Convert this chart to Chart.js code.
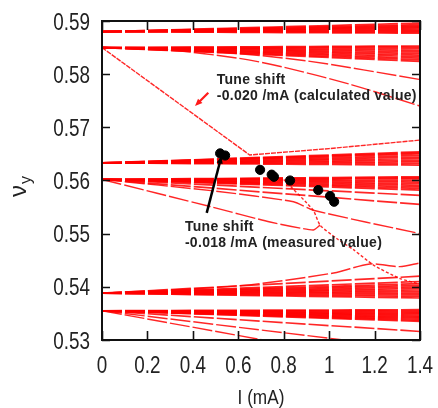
<!DOCTYPE html>
<html>
<head>
<meta charset="utf-8">
<script src="https://cdn.jsdelivr.net/npm/chart.js@4.4.1/dist/chart.umd.min.js"></script>
<style>
  html, body { margin: 0; padding: 0; background: #fff; }
  #wrap { width: 438px; height: 408px; }
</style>
</head>
<body>
<div id="wrap"><canvas id="myChart" width="438" height="408"></canvas></div>
<script>
// beam current range (mA)
const xMax = 1.4

// bands of tune lines: each line starts at the band tune (I = 0) and ends at I = xMax
const bandStarts = [0.5880, 0.5850, 0.5633, 0.5602, 0.5388, 0.5355]
const band1Ends = [0.5877, 0.5879, 0.5881, 0.5883, 0.5885, 0.5887, 0.5889, 0.5891, 0.5893, 0.5896]
const band2Ends = [0.5824, 0.5827, 0.5830, 0.5833, 0.5836, 0.5839, 0.5842, 0.5845, 0.5848, 0.5851, 0.5853]
const band3Ends = [0.5629, 0.5632, 0.5635, 0.5638, 0.5641, 0.5644, 0.5647, 0.5650, 0.5652, 0.5654]
const band4Ends = [0.5555, 0.5572, 0.5582, 0.5585, 0.5588, 0.5591, 0.5594, 0.5597, 0.5600, 0.5603, 0.5605, 0.5607]
const band5Ends = [0.5379, 0.5382, 0.5385, 0.5388, 0.5391, 0.5394, 0.5397, 0.5400, 0.5403, 0.5406, 0.5410, 0.5420]
const band6Ends = [0.5316, 0.5335, 0.5337, 0.5339, 0.5341, 0.5343, 0.5345, 0.5347, 0.5349, 0.5351, 0.5353, 0.5355, 0.5357]
const bandEnds = [band1Ends, band2Ends, band3Ends, band4Ends, band5Ends, band6Ends]

// single mode lines (current, tune)
const calcI = [0, 0.65, 1.0, 1.4]
const calcNu = [0.585, 0.5648, 0.5660, 0.5676]
const steepI = [0.80, 0.93, 0.96, 1.033, 1.107, 1.195, 1.31, 1.4]
const steepNu = [0.5602, 0.5544, 0.5516, 0.5491, 0.5470, 0.5441, 0.5416, 0.5405]
const upperI = [0, 0.5, 0.843, 0.93, 1.4]
const upperNu = [0.5602, 0.5580, 0.5560, 0.5544, 0.5500]
const lowerI = [0, 0.476, 0.74, 0.93, 0.96]
const lowerNu = [0.5602, 0.5551, 0.5522, 0.5507, 0.5516]
const risingI = [0, 0.6, 1.02, 1.18, 1.31, 1.4]
const risingNu = [0.5388, 0.5402, 0.5426, 0.5443, 0.5438, 0.5445]
const topCurveAI = [0, 0.3, 0.6, 0.8, 1.1, 1.4]
const topCurveANu = [0.585, 0.5845, 0.5830, 0.5813, 0.5780, 0.5740]
const topCurveBI = [0, 0.5, 0.9, 1.4]
const topCurveBNu = [0.585, 0.5842, 0.5825, 0.5790]
const lowAI = [0, 0.71]
const lowANu = [0.5355, 0.5300]
const lowBI = [0, 1.063]
const lowBNu = [0.5355, 0.5300]

// measured tunes
const measI = [0.520, 0.542, 0.696, 0.747, 0.757, 0.828, 0.952, 1.004, 1.022]
const measNu = [0.5651, 0.5647, 0.5620, 0.5611, 0.5607, 0.5600, 0.5582, 0.5571, 0.5560]

// axis ticks
const xTicks = [0, 0.2, 0.4, 0.6, 0.8, 1, 1.2, 1.4]
const xLabels = ['0', '0.2', '0.4', '0.6', '0.8', '1', '1.2', '1.4']
const yTicks = [0.53, 0.54, 0.55, 0.56, 0.57, 0.58, 0.59]
const yLabels = ['0.53', '0.54', '0.55', '0.56', '0.57', '0.58', '0.59']

const RED = 'rgba(255,0,0,0.85)'
const SANS = "'Liberation Sans', Arial, sans-serif"

const zip = (xs, ys) => xs.map((x, i) => ({ x, y: ys[i] }))
const lineSet = (points, dash, tension, width) => ({
  data: points,
  showLine: true,
  borderColor: RED,
  borderWidth: width || 1.4,
  borderDash: dash || [20, 3],
  pointRadius: 0,
  tension: tension || 0
})

const datasets = [{
  data: zip(measI, measNu),
  showLine: false,
  pointRadius: 4.6,
  pointBackgroundColor: '#000',
  pointBorderColor: '#000'
}]

bandStarts.forEach((start, b) => {
  bandEnds[b].forEach(end => {
    datasets.push(lineSet([{ x: 0, y: start }, { x: xMax, y: end }], null, 0, 1.7))
  })
})
datasets.push(lineSet(zip(calcI, calcNu), [5, 1], 0))
datasets.push(lineSet(zip(steepI, steepNu), [3, 2], 0.2))
datasets.push(lineSet(zip(upperI, upperNu), null, 0.2))
datasets.push(lineSet(zip(lowerI, lowerNu), null, 0.2))
datasets.push(lineSet(zip(risingI, risingNu), null, 0.3))
datasets.push(lineSet(zip(topCurveAI, topCurveANu), null, 0.3))
datasets.push(lineSet(zip(topCurveBI, topCurveBNu), null, 0.3))
datasets.push(lineSet(zip(lowAI, lowANu)))
datasets.push(lineSet(zip(lowBI, lowBNu)))

// annotation texts and arrows, placed in data units
const notes = [
  { lines: ['Tune shift', '-0.020 /mA (calculated value)'], x: 0.505, y: 0.5782 },
  { lines: ['Tune shift', '-0.018 /mA (measured value)'], x: 0.365, y: 0.5505 }
]
const arrows = [
  { from: [0.468, 0.5765], to: [0.4095, 0.5740], color: '#ff1a1a', width: 2.2 },
  { from: [0.461, 0.5539], to: [0.526, 0.5646], color: '#000', width: 2.5 }
]

// condensed text, like the narrow face of the original
function narrowText (ctx, text, x, y, align, size) {
  ctx.save()
  ctx.translate(x, y)
  ctx.scale(0.82, 1)
  ctx.font = size + 'px ' + SANS
  ctx.textAlign = align
  ctx.textBaseline = 'alphabetic'
  ctx.fillText(text, 0, 0)
  ctx.restore()
}

const frame = {
  id: 'frame',
  afterDatasetsDraw (chart) {
    const { ctx, chartArea: a, scales } = chart
    const sx = scales.x
    const sy = scales.y
    ctx.save()
    ctx.strokeStyle = '#111'
    ctx.lineWidth = 1.6
    ctx.beginPath()
    xTicks.forEach(v => {
      const px = Math.round(sx.getPixelForValue(v)) + 0.5
      ctx.moveTo(px, a.bottom); ctx.lineTo(px, a.bottom - 9)
      ctx.moveTo(px, a.top); ctx.lineTo(px, a.top + 9)
    })
    yTicks.forEach(v => {
      const py = Math.round(sy.getPixelForValue(v)) + 0.5
      ctx.moveTo(a.left, py); ctx.lineTo(a.left + 8, py)
      ctx.moveTo(a.right, py); ctx.lineTo(a.right - 8, py)
    })
    ctx.stroke()
    ctx.lineWidth = 2
    ctx.strokeRect(a.left, a.top, a.right - a.left, a.bottom - a.top)

    // tick labels and axis titles
    ctx.fillStyle = '#222'
    xTicks.forEach((v, i) => narrowText(ctx, xLabels[i], sx.getPixelForValue(v), a.bottom + 33, 'center', 23))
    yTicks.forEach((v, i) => narrowText(ctx, yLabels[i], a.left - 12, sy.getPixelForValue(v) + 8.5, 'right', 23))
    narrowText(ctx, 'I (mA)', (a.left + a.right) / 2, a.bottom + 64, 'center', 21)

    // arrows
    arrows.forEach(ar => {
      const x1 = sx.getPixelForValue(ar.from[0])
      const y1 = sy.getPixelForValue(ar.from[1])
      const x2 = sx.getPixelForValue(ar.to[0])
      const y2 = sy.getPixelForValue(ar.to[1])
      const ang = Math.atan2(y2 - y1, x2 - x1)
      const head = 8
      ctx.strokeStyle = ar.color
      ctx.fillStyle = ar.color
      ctx.lineWidth = ar.width
      ctx.beginPath()
      ctx.moveTo(x1, y1)
      ctx.lineTo(x2 - Math.cos(ang) * head * 0.8, y2 - Math.sin(ang) * head * 0.8)
      ctx.stroke()
      ctx.beginPath()
      ctx.moveTo(x2, y2)
      ctx.lineTo(x2 - head * Math.cos(ang - 0.4), y2 - head * Math.sin(ang - 0.4))
      ctx.lineTo(x2 - head * Math.cos(ang + 0.4), y2 - head * Math.sin(ang + 0.4))
      ctx.closePath()
      ctx.fill()
    })

    // notes
    ctx.fillStyle = '#222'
    ctx.font = 'bold 14px ' + SANS
    ctx.letterSpacing = '0.3px'
    ctx.textAlign = 'left'
    ctx.textBaseline = 'alphabetic'
    notes.forEach(n => {
      const px = sx.getPixelForValue(n.x)
      const py = sy.getPixelForValue(n.y)
      n.lines.forEach((t, i) => ctx.fillText(t, px, py + i * 16))
    })
    ctx.letterSpacing = '0px'

    // y axis title: nu with subscript y, rotated
    ctx.translate(26, 197)
    ctx.rotate(-Math.PI / 2)
    ctx.fillStyle = '#222'
    ctx.font = '24px ' + SANS
    ctx.fillText('ν', 0, 0)
    const w = ctx.measureText('ν').width
    ctx.font = '16px ' + SANS
    ctx.fillText('y', w + 1, 5)
    ctx.restore()
  }
}

new Chart(document.getElementById('myChart').getContext('2d'), {
  type: 'scatter',
  data: { datasets },
  options: {
    responsive: false,
    animation: false,
    devicePixelRatio: 1,
    layout: { padding: { top: 21, right: 18, left: 0, bottom: 0 } },
    plugins: { legend: { display: false }, tooltip: { enabled: false } },
    scales: {
      x: {
        type: 'linear',
        min: 0,
        max: xMax,
        afterFit (scale) { scale.height = 68 },
        grid: { display: false },
        border: { display: false },
        ticks: { display: false }
      },
      y: {
        type: 'linear',
        min: 0.53,
        max: 0.59,
        afterFit (scale) { scale.width = 102 },
        grid: { display: false },
        border: { display: false },
        ticks: { display: false }
      }
    }
  },
  plugins: [frame]
})
</script>
</body>
</html>
